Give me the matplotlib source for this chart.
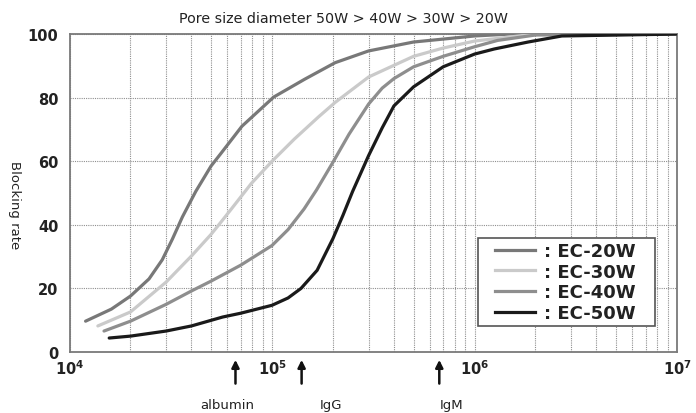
import math

import matplotlib
matplotlib.use("Agg")
import matplotlib.pyplot as plt
from matplotlib.ticker import LogLocator, NullFormatter, FuncFormatter
from matplotlib.lines import Line2D
from matplotlib.patches import Rectangle

plt.rcParams["font.family"] = ["DejaVu Sans"]

# molecular weight vs blocking rate (%)
mw_20 = [1.2e4, 1.61e4, 2.0e4, 2.47e4, 2.87e4, 3.22e4, 3.61e4, 4.2e4, 5.0e4, 5.6e4,
         7.1e4, 1.02e5, 1.45e5, 2.05e5, 3.0e5, 5.0e5, 1.0e6, 1.5e6, 1e7]
rate_20 = [9.7, 13.5, 17.6, 23, 29, 35.5, 42.5, 50.5, 58.5, 62.5,
           71, 80.2, 85.8, 91, 94.7, 97.5, 99.4, 100, 100]

mw_30 = [1.38e4, 2.0e4, 3.0e4, 4.0e4, 5.0e4, 5.7e4, 6.3e4, 7.9e4, 1.0e5, 1.29e5,
         1.7e5, 2.05e5, 3.0e5, 5.0e5, 7.0e5, 1.0e6, 2.0e6, 1e7]
rate_30 = [8.2, 12.6, 22, 30.2, 37, 41.5, 45, 53, 60, 67,
           74, 78.5, 86.5, 93, 95.6, 97.8, 100, 100]

mw_40 = [1.48e4, 2.0e4, 3.0e4, 4.0e4, 5.0e4, 7.0e4, 1.0e5, 1.2e5, 1.44e5, 1.66e5,
         2.0e5, 2.4e5, 3.0e5, 3.5e5, 4.0e5, 5.0e5, 7.0e5, 1.0e6, 1.3e6, 2.0e6, 1e7]
rate_40 = [6.6, 9.7, 15, 19.2, 22.3, 27.3, 33.5, 38.5, 45, 51,
           59.7, 68.5, 78, 83, 86, 89.7, 93, 96, 98, 99.7, 100]

mw_50 = [1.57e4, 2e4, 3e4, 4e4, 5.7e4, 7e4, 1e5, 1.2e5, 1.39e5, 1.67e5, 2e5, 2.24e5,
         2.5e5, 3e5, 3.5e5, 4e5, 5e5, 7e5, 1e6, 1.25e6, 1.84e6, 2.7e6, 1e7]
rate_50 = [4.4, 5, 6.6, 8.2, 11, 12.2, 14.7, 17, 20, 25.7, 35.7, 43,
           50.5, 61.8, 70.5, 77.4, 83.4, 89.7, 93.7, 95.3, 97.5, 99.4, 100]

series = [
    ("EC-20W", mw_20, rate_20, "#787878"),
    ("EC-30W", mw_30, rate_30, "#cacaca"),
    ("EC-40W", mw_40, rate_40, "#8e8e8e"),
    ("EC-50W", mw_50, rate_50, "#1a1a1a"),
]

markers = ["albumin", "IgG", "IgM"]
marker_mw = [6.6e4, 1.4e5, 6.7e5]
label_shift = [-6, 21, 9]   # label offset from its arrow, in points

fig = plt.figure(figsize=(6.96, 4.14), dpi=100)
ax = fig.add_axes([0.0999, 0.1473, 0.8728, 0.768])

for name, x, y, c in series:
    ax.plot(x, y, color=c, lw=2.3, solid_capstyle="round",
            solid_joinstyle="round", zorder=3)

ax.set_xscale("log")
ax.set_xlim(1e4, 1e7)
ax.set_ylim(0, 100)
ax.set_yticks([0, 20, 40, 60, 80, 100])
ax.xaxis.set_major_locator(LogLocator(base=10, numticks=10))
ax.xaxis.set_major_formatter(FuncFormatter(
    lambda v, pos: r"$\mathbf{10^{%d}}$" % round(math.log10(v))))
ax.xaxis.set_minor_locator(LogLocator(base=10, subs=range(2, 10), numticks=20))
ax.xaxis.set_minor_formatter(NullFormatter())

ax.grid(True, which="both", axis="x", ls=(0, (1, 1)), color="#8f8f8f", lw=0.8)
ax.grid(True, which="major", axis="y", ls=(0, (1, 1)), color="#8f8f8f", lw=0.8)
ax.tick_params(axis="both", which="both", length=0)
ax.tick_params(axis="x", pad=4.5, labelsize=10.5, labelcolor="#222222")
ax.tick_params(axis="y", pad=8, labelsize=10.5, labelcolor="#222222")
for lbl in ax.get_yticklabels():
    lbl.set_fontweight("bold")
for s in ax.spines.values():
    s.set_color("#7a7a7a")
    s.set_linewidth(1.3)

# arrows for reference proteins
for name, mw, dx in zip(markers, marker_mw, label_shift):
    ax.annotate("", xy=(mw, -0.016), xytext=(mw, -0.108),
                xycoords=("data", "axes fraction"),
                arrowprops=dict(arrowstyle="-|>", color="#111111", lw=1.8,
                                mutation_scale=11),
                annotation_clip=False)
    ax.annotate(name, xy=(mw, -0.166), xycoords=("data", "axes fraction"),
                xytext=(dx, 0), textcoords="offset points",
                ha="center", va="center", fontsize=9.5, color="#222222",
                annotation_clip=False)

# legend: frame drawn separately so it can be wider than the content
ax.add_patch(Rectangle((0.6724, 0.0818), 0.2914, 0.2767, transform=ax.transAxes,
                       facecolor="white", edgecolor="#555555", lw=1.2, zorder=4.9))
handles = [Line2D([], [], color=c, lw=2.3) for _, _, _, c in series]
labels = [": " + name for name, _, _, _ in series]
leg = ax.legend(handles, labels, loc="center", bbox_to_anchor=(0.816, 0.220),
                frameon=False, handlelength=2.25, handletextpad=0.5,
                labelspacing=0.15, borderpad=0, borderaxespad=0,
                prop=dict(size=13, weight="bold"))
leg.set_zorder(5)
for t in leg.get_texts():
    t.set_color("#222222")

fig.text(0.494, 0.954, "Pore size diameter 50W > 40W > 30W > 20W",
         ha="center", va="center", fontsize=10.3, color="#222222")
fig.text(0.021, 0.505, "Blocking rate", rotation=270, ha="center", va="center",
         fontsize=9.5, color="#222222")

fig.savefig("out.png", dpi=100)
